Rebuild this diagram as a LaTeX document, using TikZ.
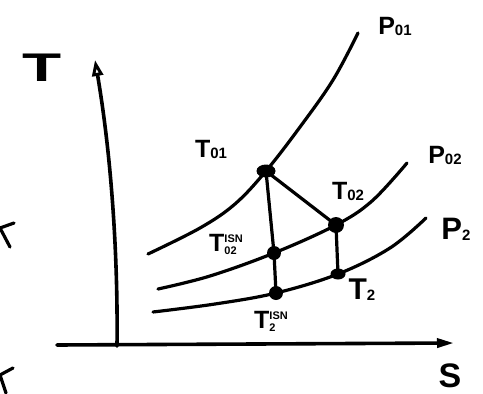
\documentclass[tikz,border=0pt]{standalone}
\usepackage{fontspec}
\setmainfont{Liberation Sans}
\usetikzlibrary{arrows.meta,shapes.geometric}
\newcommand\labsub[2]{#1\raisebox{-1pt}{\fontsize{15}{15}\selectfont #2}}
\newcommand\labiso[3]{#1\raisebox{-3pt}{\fontsize{11}{12.5}\selectfont\begin{tabular}[b]{@{}l@{}}#3\\#2\end{tabular}}}
\begin{document}
\begin{tikzpicture}[x=1pt,y=-1pt,
  curve/.style={line width=3.2pt,line cap=round,line join=round},
  pt/.style={circle,fill=black,inner sep=0pt,minimum size=14pt},
  lbl/.style={font=\bfseries\fontsize{25}{26}\selectfont,inner sep=0pt},
  big/.style={font=\bfseries\fontsize{40}{42}\selectfont,inner sep=0pt}]
\useasboundingbox (0,0) rectangle (483,394);
% axes
\coordinate (o) at (117,346);
\coordinate (ttop) at (95,60);
\coordinate (sl) at (57,345);
\coordinate (sr) at (454,343);
\draw[curve,line width=3.6pt,-{Triangle[open,length=16pt,width=11pt,line width=3pt]}] (o) .. controls (118,260) and (112,160) .. (ttop);
\draw[curve,line width=3.6pt,-{Triangle[length=17pt,width=9pt]}] (sl) -- (sr);
% isobars
\draw[curve] plot[smooth,tension=0.6] coordinates {(148,254) (200,228) (235,204) (266,171) (300,127) (333,80) (358,33)};
\draw[curve] plot[smooth,tension=0.6] coordinates {(158,289) (210,276) (274,253) (336,225) (372,201) (407,163)};
\draw[curve] plot[smooth,tension=0.6] coordinates {(153,312) (215,304) (276,293) (338,274) (390,248) (426,218)};
% state points
\node[pt,ellipse,minimum width=19pt,minimum height=13pt] (t01) at (266,171) {};
\node[pt] (t02i) at (274,253) {};
\node[pt] (t2i) at (276,293) {};
\node[pt,minimum size=16pt] (t02) at (336,225) {};
\node[pt,ellipse,minimum width=15pt,minimum height=11pt] (t2) at (338,274) {};
\draw[curve] (t01.center) -- (t02i.center) -- (t2i.center);
\draw[curve] (t01.center) -- (t02.center);
\draw[curve] (t02.center) -- (t2.center);
% labels
\node[big,xscale=1.6] (lT) at (42,68) {T};
\node[big,font=\bfseries\fontsize{34}{36}\selectfont] (lS) at (450,376) {S};
\node[lbl] (lp01) at (395,26) {\labsub{P}{01}};
\node[lbl] (lp02) at (445,155) {\labsub{P}{02}};
\node[lbl,font=\bfseries\fontsize{31}{32}\selectfont] (lp2) at (456,229) {\labsub{P}{2}};
\node[lbl] (lt01) at (211,149) {\labsub{T}{01}};
\node[lbl] (lt02) at (348,191) {\labsub{T}{02}};
\node[lbl] (lt02i) at (226,246) {\labiso{T}{02}{ISN}};
\node[lbl,font=\bfseries\fontsize{30}{32}\selectfont] (lt2) at (362,290) {\labsub{T}{2}};
\node[lbl] (lt2i) at (271,323) {\labiso{T}{2}{ISN}};
% cut-off marks at left edge
\draw[curve] (14,223) -- (0,228) -- (10,247);
\draw[curve] (13,368) -- (0,375) -- (6,393);
\end{tikzpicture}
\end{document}
